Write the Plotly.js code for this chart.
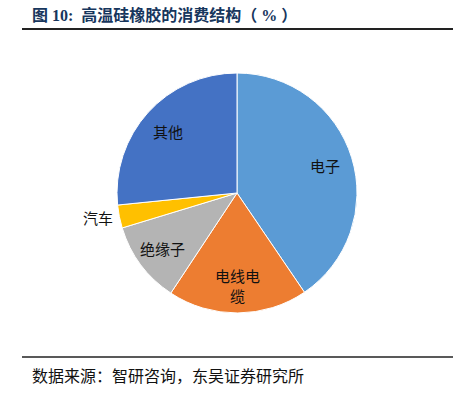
<!DOCTYPE html>
<html><head><meta charset="utf-8">
<script src="https://cdn.plot.ly/plotly-3.0.1.min.js"></script>
<style>html,body{margin:0;padding:0;background:#fff;}#chart{width:469px;height:393px;}</style>
</head><body><div id="chart"></div>
<script>
const categories = ['电子', '电线电缆', '绝缘子', '汽车', '其他'];
const labelTexts = ['电子', '电线电<br>缆', '绝缘子', '汽车', '其他'];
const shares = [40.5, 18.8, 11.0, 3.1, 26.6];
const labelOutside = [false, false, false, true, false];
const colors = ['#5B9BD5', '#ED7D31', '#B4B4B4', '#FFC000', '#4472C4'];
const W = 469, H = 393;
const pieLeft = 117, pieRight = 357, pieTop = 73, pieBottom = 313;
const R = (pieRight - pieLeft) / 2;
const cx = (pieLeft + pieRight) / 2 / W, cy = 1 - (pieTop + pieBottom) / 2 / H;

const trace = {
  type: 'pie', labels: categories, values: shares,
  textinfo: 'none', sort: false, direction: 'clockwise', rotation: 0,
  marker: {colors: colors, line: {color: '#ffffff', width: 1}},
  automargin: false, hoverinfo: 'none',
  domain: {x: [pieLeft / W, pieRight / W], y: [1 - pieBottom / H, 1 - pieTop / H]}
};

// data labels placed at each slice's mid-angle (derived from the shares)
const total = shares.reduce((a, b) => a + b, 0);
let cum = 0;
const labelAnns = shares.map((v, i) => {
  const mid = (cum + v / 2) / total * 2 * Math.PI;
  cum += v;
  const s = Math.sin(mid), c = Math.cos(mid);
  const rr = labelOutside[i] ? 1.04 * R : 0.77 * R;
  return {
    text: labelTexts[i], xref: 'paper', yref: 'paper',
    x: cx + rr * s / W, y: cy + rr * c / H,
    xanchor: labelOutside[i] ? (s < 0 ? 'right' : 'left') : 'center', yanchor: 'middle',
    showarrow: false, font: {family: 'Noto Sans CJK SC', size: 15, color: '#111'}
  };
});

const layout = {
  width: W, height: H, margin: {l: 0, r: 0, t: 0, b: 0},
  paper_bgcolor: '#fff', showlegend: false,
  shapes: [
    {type: 'line', xref: 'paper', yref: 'paper', x0: 22 / W, x1: 453 / W, y0: 1 - 29 / H, y1: 1 - 29 / H, line: {color: '#222', width: 2}},
    {type: 'line', xref: 'paper', yref: 'paper', x0: 22 / W, x1: 453 / W, y0: 1 - 357 / H, y1: 1 - 357 / H, line: {color: '#222', width: 1.5}}
  ],
  annotations: [
    {text: '<b>图 10:  高温硅橡胶的消费结构（ % ）</b>', xref: 'paper', yref: 'paper', x: 30 / W, y: 1 - 15 / H, xanchor: 'left', yanchor: 'middle', showarrow: false,
      font: {family: 'Liberation Serif, Noto Sans CJK SC', size: 16, color: '#17365D'}},
    {text: '数据来源：智研咨询，东吴证券研究所', xref: 'paper', yref: 'paper', x: 30 / W, y: 1 - 375 / H, xanchor: 'left', yanchor: 'middle', showarrow: false,
      font: {family: 'Noto Sans CJK SC', size: 16, color: '#111'}}
  ].concat(labelAnns)
};
Plotly.newPlot('chart', [trace], layout, {staticPlot: true});
</script></body></html>
